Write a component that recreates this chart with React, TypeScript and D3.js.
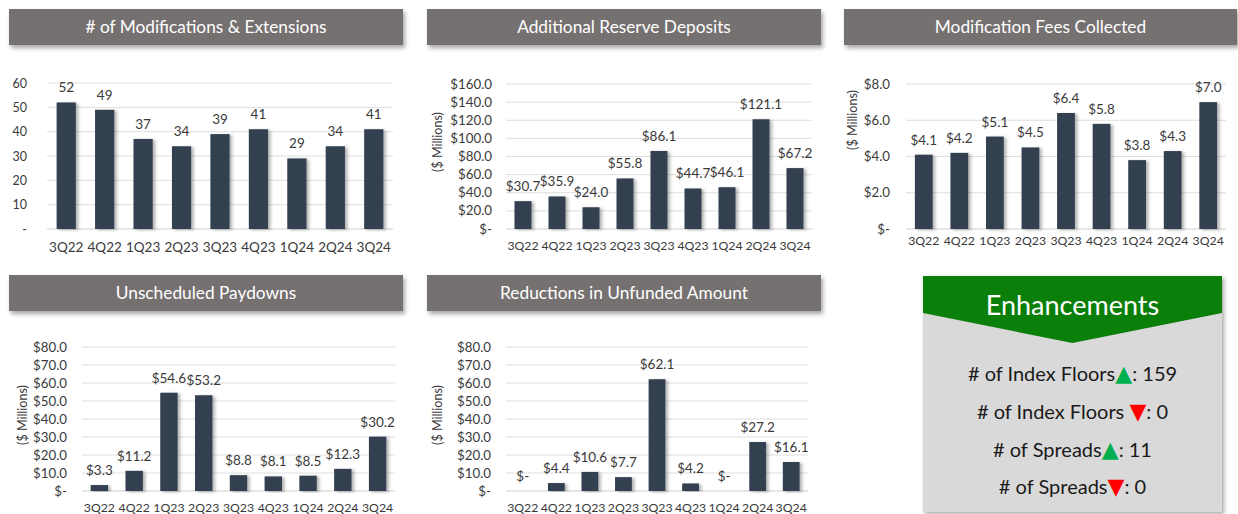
import React from "react";
import * as d3 from "d3";

const categories = ["3Q22", "4Q22", "1Q23", "2Q23", "3Q23", "4Q23", "1Q24", "2Q24", "3Q24"];
const modifications = [52, 49, 37, 34, 39, 41, 29, 34, 41];
const reserveDeposits = [30.7, 35.9, 24.0, 55.8, 86.1, 44.7, 46.1, 121.1, 67.2];
const modFees = [4.1, 4.2, 5.1, 4.5, 6.4, 5.8, 3.8, 4.3, 7.0];
const paydowns = [3.3, 11.2, 54.6, 53.2, 8.8, 8.1, 8.5, 12.3, 30.2];
const unfundedReductions = [0, 4.4, 10.6, 7.7, 62.1, 4.2, 0, 27.2, 16.1];

const ticksCount = [0, 10, 20, 30, 40, 50, 60];
const ticksReserve = [0, 20, 40, 60, 80, 100, 120, 140, 160];
const ticksFees = [0, 2, 4, 6, 8];
const ticksEighty = [0, 10, 20, 30, 40, 50, 60, 70, 80];

const enhancementLines = [
  { label: "# of Index Floors", up: true, gap: "", value: "159" },
  { label: "# of Index Floors", up: false, gap: " ", value: "0" },
  { label: "# of Spreads", up: true, gap: "", value: "11" },
  { label: "# of Spreads", up: false, gap: "", value: "0" },
];

const FONT = "Lato, 'Open Sans', sans-serif";
const BAR = "#333f50";
const HEADER = "#767171";

const fmtDollar = (v: number) => (v === 0 ? "$-" : "$" + v.toFixed(1));
const fmtInt = (v: number) => (v === 0 ? "-" : String(v));

type PanelProps = {
  title: string;
  values: number[];
  ticks: number[];
  fmt: (v: number) => string;
  header: { x: number; y: number; w: number; h: number };
  plot: { x0: number; x1: number; top: number; base: number };
  tickX: number;
  axisTitle?: { x: number; y: number };
  xLabelY: number;
  xFont: number;
  tickFont: number;
};

function Panel(p: PanelProps) {
  const x = d3.scaleBand<string>().domain(categories).range([p.plot.x0, p.plot.x1]).paddingInner(0.5).paddingOuter(0.25);
  const y = d3.scaleLinear().domain([0, p.ticks[p.ticks.length - 1]]).range([p.plot.base, p.plot.top]);
  return (
    <g>
      <rect x={p.header.x} y={p.header.y} width={p.header.w} height={p.header.h} fill={HEADER} filter="url(#hdrShadow)" />
      <text x={p.header.x + p.header.w / 2} y={p.header.y + p.header.h / 2 + 6} textAnchor="middle" fill="#ffffff" fontSize={17.3} fontFamily={FONT}>
        {p.title}
      </text>
      {p.ticks.map((t) => (
        <g key={t}>
          <line x1={p.plot.x0} x2={p.plot.x1} y1={y(t)} y2={y(t)} stroke={t === 0 ? "#cfcfcf" : "#dedede"} strokeWidth={1} />
          <text x={p.tickX} y={y(t) + 4.5} textAnchor="end" fill="#3a3a3a" fontSize={p.tickFont} fontFamily={FONT}>
            {p.fmt(t)}
          </text>
        </g>
      ))}
      {p.axisTitle && (
        <text transform={`translate(${p.axisTitle.x},${p.axisTitle.y}) rotate(-90)`} textAnchor="middle" fill="#3a3a3a" fontSize={12.5} fontFamily={FONT}>
          ($ Millions)
        </text>
      )}
      {p.values.map((v, i) => {
        const c = categories[i];
        const bx = x(c)!;
        return (
          <g key={c}>
            {v > 0 && <rect x={bx} y={y(v)} width={x.bandwidth()} height={p.plot.base - y(v)} fill={BAR} filter="url(#barShadow)" />}
            <text x={bx + x.bandwidth() / 2} y={y(v) - 10} textAnchor="middle" fill="#3a3a3a" fontSize={13.5} fontFamily={FONT}>
              {p.fmt(v)}
            </text>
            <text x={bx + x.bandwidth() / 2} y={p.xLabelY} textAnchor="middle" fill="#3a3a3a" fontSize={p.xFont} fontFamily={FONT}>
              {c}
            </text>
          </g>
        );
      })}
    </g>
  );
}

export default function App() {
  const boxX = 923;
  const boxR = 1222;
  const boxTop = 276;
  const cx = (boxX + boxR) / 2;
  const lineYs = [381, 419, 457, 494];
  return (
    <svg width={1238} height={514} style={{ position: "absolute", left: 0, top: 0, background: "#ffffff" }}>
      <defs>
        <filter id="hdrShadow" x="-5%" y="-30%" width="115%" height="180%">
          <feDropShadow dx={2} dy={3} stdDeviation={2} floodColor="#000" floodOpacity={0.35} />
        </filter>
        <filter id="barShadow" x="-30%" y="-5%" width="180%" height="115%">
          <feDropShadow dx={2.5} dy={1} stdDeviation={1.5} floodColor="#000" floodOpacity={0.3} />
        </filter>
        <filter id="boxShadow" x="-5%" y="-5%" width="115%" height="115%">
          <feDropShadow dx={2} dy={2} stdDeviation={2} floodColor="#000" floodOpacity={0.35} />
        </filter>
      </defs>
      <rect width={1238} height={514} fill="#ffffff" />
      <Panel title="# of Modifications & Extensions" values={modifications} ticks={ticksCount} fmt={fmtInt}
        header={{ x: 9, y: 9, w: 394, h: 36 }} plot={{ x0: 47, x1: 393, top: 83, base: 229 }} tickX={27}
        xLabelY={252} xFont={13.5} tickFont={12.5} />
      <Panel title="Additional Reserve Deposits" values={reserveDeposits} ticks={ticksReserve} fmt={fmtDollar}
        header={{ x: 427, y: 9, w: 394, h: 36 }} plot={{ x0: 506, x1: 812, top: 84, base: 229 }} tickX={492}
        axisTitle={{ x: 442, y: 142 }} xLabelY={250} xFont={12.3} tickFont={13.3} />
      <Panel title="Modification Fees Collected" values={modFees} ticks={ticksFees} fmt={fmtDollar}
        header={{ x: 844, y: 9, w: 393, h: 36 }} plot={{ x0: 906, x1: 1226, top: 84, base: 229 }} tickX={890}
        axisTitle={{ x: 857, y: 120 }} xLabelY={245} xFont={12.3} tickFont={13.3} />
      <Panel title="Unscheduled Paydowns" values={paydowns} ticks={ticksEighty} fmt={fmtDollar}
        header={{ x: 9, y: 275, w: 394, h: 36 }} plot={{ x0: 82, x1: 395, top: 347, base: 491 }} tickX={67}
        axisTitle={{ x: 27, y: 415 }} xLabelY={512} xFont={12.3} tickFont={13.3} />
      <Panel title="Reductions in Unfunded Amount" values={unfundedReductions} ticks={ticksEighty} fmt={fmtDollar}
        header={{ x: 427, y: 275, w: 394, h: 36 }} plot={{ x0: 506, x1: 808, top: 347, base: 491 }} tickX={491}
        axisTitle={{ x: 442, y: 415 }} xLabelY={512} xFont={12.3} tickFont={13.3} />

      <rect x={boxX} y={boxTop} width={boxR - boxX} height={236} fill="#d9d9d9" filter="url(#boxShadow)" />
      <polygon points={`${boxX},${boxTop} ${boxR},${boxTop} ${boxR},313 ${cx},343 ${boxX},313`} fill="#0a7f0a" />
      <text x={cx} y={315} textAnchor="middle" fill="#ffffff" fontSize={27} fontFamily={FONT}>Enhancements</text>
      {enhancementLines.map((l, i) => (
        <text key={i} x={cx} y={lineYs[i]} textAnchor="middle" fill="#1a1a1a" fontSize={20} fontFamily={FONT}>
          {l.label + l.gap}
          <tspan fill={l.up ? "#00b050" : "#ff0000"} fontFamily="'DejaVu Sans', sans-serif" fontSize={22}>{l.up ? "▲" : "▼"}</tspan>
          {": " + l.value}
        </text>
      ))}
    </svg>
  );
}
